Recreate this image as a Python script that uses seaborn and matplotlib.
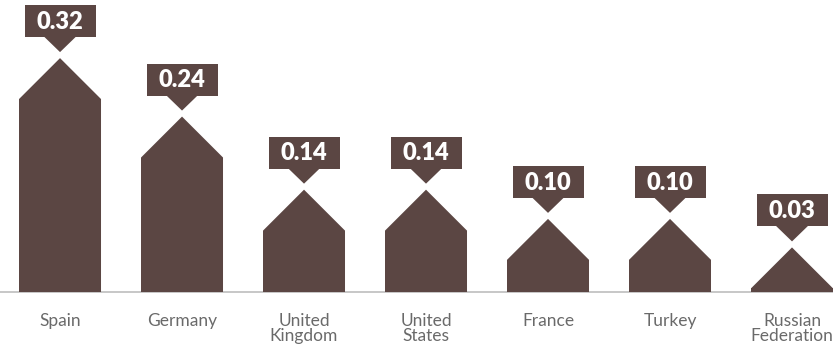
import matplotlib
matplotlib.use("Agg")
import matplotlib.pyplot as plt
import seaborn as sns
import pandas as pd
from matplotlib.patches import Polygon, Rectangle

countries = ["Spain", "Germany", "United\nKingdom", "United\nStates", "France", "Turkey", "Russian\nFederation"]
values = [0.32, 0.24, 0.14, 0.14, 0.10, 0.10, 0.03]

BAR = "#5b4643"
ROOF = 0.056        # roof height in data units (gives a 45 degree pitch)
MIN_TOTAL = 0.061   # smallest drawn house so the roof always fits

sns.set_theme(style="white")
plt.rcParams["font.family"] = ["Lato", "DejaVu Sans"]

fig = plt.figure(figsize=(8.33, 3.45), dpi=100)
ax = fig.add_axes([0, 0, 1, 1])

totals = [max(v, MIN_TOTAL) for v in values]
walls = [t - ROOF for t in totals]
df = pd.DataFrame({"country": countries, "wall": walls})

sns.barplot(data=df, x="country", y="wall", color=BAR, saturation=1,
            width=0.672, ax=ax, linewidth=0)

ax.set_xlim(-0.492, 6.336)
ax.set_ylim(-0.0725, 0.3995)

# house outline over each bar, plus the value callouts
px_per_x = 122.0
px_per_y = 731.0
for bar, top, v in zip(ax.patches, totals, values):
    x0 = bar.get_x()
    w = bar.get_width()
    xc = x0 + w / 2
    wall = bar.get_height()
    ax.add_patch(Polygon([(x0, 0), (x0, wall), (xc, top), (x0 + w, wall), (x0 + w, 0)],
                         closed=True, facecolor=BAR, edgecolor="none"))
    gap = 6 / px_per_y
    tip = top + gap
    tri_h = 15 / px_per_y
    tri_w = 17 / px_per_x
    box_h = 32 / px_per_y
    box_w = 71 / px_per_x
    ax.add_patch(Polygon([(xc - tri_w, tip + tri_h + 0.002), (xc, tip),
                          (xc + tri_w, tip + tri_h + 0.002)],
                         closed=True, facecolor=BAR, edgecolor="none"))
    ax.add_patch(Rectangle((xc - box_w / 2, tip + tri_h), box_w, box_h,
                           facecolor=BAR, edgecolor="none"))
    ax.text(xc, tip + tri_h + box_h / 2 - 0.001, f"{v:.2f}", color="white",
            ha="center", va="center", fontsize=17, fontweight="heavy")

ax.axhline(0, color="#bdbdbd", linewidth=1.2, zorder=0)

for i, name in enumerate(countries):
    ax.text(i, -0.029, name, ha="center", va="top", color="#6a6a6a",
            fontsize=12.5, linespacing=0.9)

ax.set_xlabel("")
ax.set_ylabel("")
ax.set_xticks([])
ax.set_yticks([])
for s in ax.spines.values():
    s.set_visible(False)

fig.savefig("out.png", dpi=100)
